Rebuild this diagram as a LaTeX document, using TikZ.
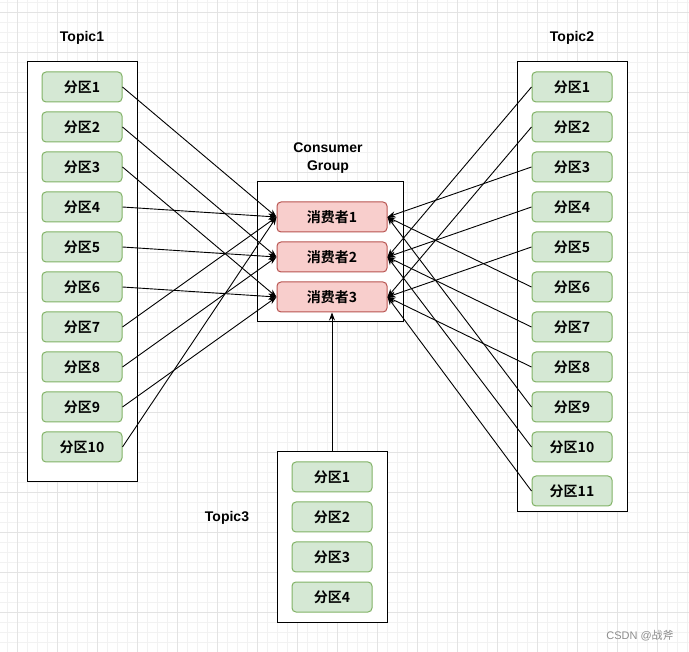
\documentclass[tikz,border=0pt]{standalone}
\usepackage{fontspec}
\setmainfont{Liberation Sans}
\newfontfamily\cjk{Noto Sans CJK SC}[BoldFont={Noto Sans CJK SC Bold}]
\usetikzlibrary{arrows.meta}
\definecolor{partfill}{HTML}{D5E8D4}
\definecolor{partline}{HTML}{82B366}
\definecolor{consfill}{HTML}{F8CECC}
\definecolor{consline}{HTML}{B85450}
\begin{document}
\begin{tikzpicture}[x=1pt, y=-1pt,
    every node/.style={inner sep=0pt, font=\bfseries\fontsize{14}{18}\selectfont},
    topic/.style={draw, fill=white, line width=1pt},
    part/.style={draw=partline, fill=partfill, rounded corners=4pt, line width=1pt,
        minimum width=80pt, minimum height=30pt, font=\cjk\bfseries\fontsize{14}{17}\selectfont},
    cons/.style={part, draw=consline, fill=consfill, minimum width=110pt},
    link/.style={-{Stealth[length=8pt, width=6pt]}, line width=0.9pt}]
    \useasboundingbox (0,0) rectangle (689,652);
    % background grid
    \begin{scope}
        \clip (0,0) rectangle (689,652);
        \foreach \x in {7.3,17.3,...,687.3} \draw[black!5, line width=1pt] (\x,0) -- (\x,652);
        \foreach \y in {2.7,12.7,...,652.7} \draw[black!5, line width=1pt] (0,\y) -- (689,\y);
        \foreach \x in {17.3,57.3,...,657.3} \draw[black!11, line width=1pt] (\x,0) -- (\x,652);
        \foreach \y in {12.7,52.7,...,652.7} \draw[black!11, line width=1pt] (0,\y) -- (689,\y);
    \end{scope}
    % containers and their titles
    \node [topic, minimum width=110pt, minimum height=420pt] (t1) at (82,272) {};
    \node [topic, minimum width=110pt, minimum height=450pt] (t2) at (572,287) {};
    \node [topic, minimum width=146pt, minimum height=140pt] (g) at (330,252) {};
    \node [topic, minimum width=110pt, minimum height=170pt] (t3) at (332,537) {};
    \node (l1) at (82,38) {Topic1};
    \node (l2) at (572,38) {Topic2};
    \node [align=center] (lg) at (328,158) {Consumer\\Group};
    \node (l3) at (227,518) {Topic3};
    % Topic1
    \node [part] (a1) at (82,87) {分区1};
    \node [part] (a2) at (82,127) {分区2};
    \node [part] (a3) at (82,167) {分区3};
    \node [part] (a4) at (82,207) {分区4};
    \node [part] (a5) at (82,247) {分区5};
    \node [part] (a6) at (82,287) {分区6};
    \node [part] (a7) at (82,327) {分区7};
    \node [part] (a8) at (82,367) {分区8};
    \node [part] (a9) at (82,407) {分区9};
    \node [part] (a10) at (82,447) {分区10};
    % Topic2
    \node [part] (b1) at (572,87) {分区1};
    \node [part] (b2) at (572,127) {分区2};
    \node [part] (b3) at (572,167) {分区3};
    \node [part] (b4) at (572,207) {分区4};
    \node [part] (b5) at (572,247) {分区5};
    \node [part] (b6) at (572,287) {分区6};
    \node [part] (b7) at (572,327) {分区7};
    \node [part] (b8) at (572,367) {分区8};
    \node [part] (b9) at (572,407) {分区9};
    \node [part] (b10) at (572,447) {分区10};
    \node [part] (b11) at (572,491) {分区11};
    % Topic3
    \node [part] (c1) at (332,477) {分区1};
    \node [part] (c2) at (332,517) {分区2};
    \node [part] (c3) at (332,557) {分区3};
    \node [part] (c4) at (332,597) {分区4};
    % consumers
    \node [cons] (x1) at (332,217) {消费者1};
    \node [cons] (x2) at (332,257) {消费者2};
    \node [cons] (x3) at (332,297) {消费者3};
    % links
    \draw [link] (a1.east) -- (x1.west);
    \draw [link] (a2.east) -- (x2.west);
    \draw [link] (a3.east) -- (x3.west);
    \draw [link] (a4.east) -- (x1.west);
    \draw [link] (a5.east) -- (x2.west);
    \draw [link] (a6.east) -- (x3.west);
    \draw [link] (a7.east) -- (x1.west);
    \draw [link] (a8.east) -- (x2.west);
    \draw [link] (a9.east) -- (x3.west);
    \draw [link] (a10.east) -- (x1.west);
    \draw [link] (b1.west) -- (x2.east);
    \draw [link] (b2.west) -- (x3.east);
    \draw [link] (b3.west) -- (x1.east);
    \draw [link] (b4.west) -- (x2.east);
    \draw [link] (b5.west) -- (x3.east);
    \draw [link] (b6.west) -- (x1.east);
    \draw [link] (b7.west) -- (x2.east);
    \draw [link] (b8.west) -- (x3.east);
    \draw [link] (b9.west) -- (x1.east);
    \draw [link] (b10.west) -- (x2.east);
    \draw [link] (b11.west) -- (x3.east);
    \draw [link] (t3.north) -- (x3.south);
    \node [font=\fontsize{11}{13}\selectfont, text=black!45] (wm) at (640,636) {CSDN @{\cjk 战斧}};
\end{tikzpicture}
\end{document}
